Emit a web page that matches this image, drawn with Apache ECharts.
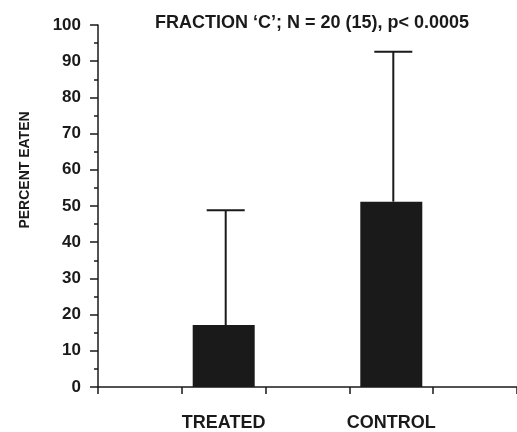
<!DOCTYPE html>
<html>
<head>
<meta charset="utf-8">
<script src="https://cdn.jsdelivr.net/npm/echarts@6/dist/echarts.min.js"></script>
<style>html,body{margin:0;padding:0;background:#fff}#c{width:517px;height:432px}</style>
</head>
<body>
<div id="c"></div>
<script>
var categories = ['', 'TREATED', '', 'CONTROL', ''];
var meanValues = [null, 17.1, null, 51.2, null];
var errorTop = [null, 48.8, null, 92.6, null];
var yTicks = [0, 10, 20, 30, 40, 50, 60, 70, 80, 90, 100];

var errData = [];
for (var i = 0; i < categories.length; i++) {
  if (meanValues[i] != null) errData.push([i, meanValues[i], errorTop[i]]);
}
var FONT = "'Liberation Sans', Arial, Helvetica, sans-serif";
var INK = '#1a1a1a';

var chart = echarts.init(document.getElementById('c'), null, {renderer: 'canvas'});
chart.setOption({
  animation: false,
  backgroundColor: '#fff',
  title: {
    text: "FRACTION \u2018C\u2019; N = 20 (15), p< 0.0005",
    left: 307, top: 9, textAlign: 'center',
    textStyle: {fontFamily: FONT, fontSize: 18, fontWeight: 'bold', color: INK}
  },
  graphic: [{
    type: 'text', x: 25, y: 170, rotation: Math.PI / 2,
    style: {text: 'PERCENT EATEN', fontFamily: FONT, fontSize: 14, fontWeight: 'bold', fill: INK, align: 'center', verticalAlign: 'middle'}
  }],
  grid: {left: 98, top: 25, height: 363, width: 421},
  xAxis: {
    type: 'category', data: categories, boundaryGap: true,
    axisLine: {lineStyle: {color: INK, width: 1.5}},
    axisTick: {show: true, length: 7, lineStyle: {color: INK, width: 1.5}},
    axisLabel: {margin: 27, fontFamily: FONT, fontSize: 18, fontWeight: 'bold', color: INK, interval: 0}
  },
  yAxis: {
    type: 'value', min: 0, max: 100, interval: 10,
    axisLine: {show: true, lineStyle: {color: INK, width: 1.5}},
    axisTick: {show: true, length: 8, lineStyle: {color: INK, width: 1.5}},
    minorTick: {show: true, splitNumber: 2, length: 4, lineStyle: {color: INK, width: 1.5}},
    splitLine: {show: false},
    axisLabel: {margin: 17, fontFamily: FONT, fontSize: 17, fontWeight: 'bold', color: INK,
      formatter: function (v) { return yTicks.indexOf(v) >= 0 ? String(v) : ''; }}
  },
  series: [{
    type: 'bar', data: meanValues, barWidth: 62,
    itemStyle: {color: INK}
  }, {
    type: 'custom', data: errData,
    renderItem: function (params, api) {
      var x = api.value(0), lo = api.value(1), hi = api.value(2);
      var p0 = api.coord([x, lo]);
      var p1 = api.coord([x, hi]);
      var cx = p0[0] + 2;
      var half = 19;
      return {
        type: 'group',
        children: [
          {type: 'line', shape: {x1: cx, y1: p0[1], x2: cx, y2: p1[1]}, style: {stroke: INK, lineWidth: 2}},
          {type: 'line', shape: {x1: cx - half, y1: p1[1], x2: cx + half, y2: p1[1]}, style: {stroke: INK, lineWidth: 2}}
        ]
      };
    },
    z: 3
  }]
});
</script>
</body>
</html>
